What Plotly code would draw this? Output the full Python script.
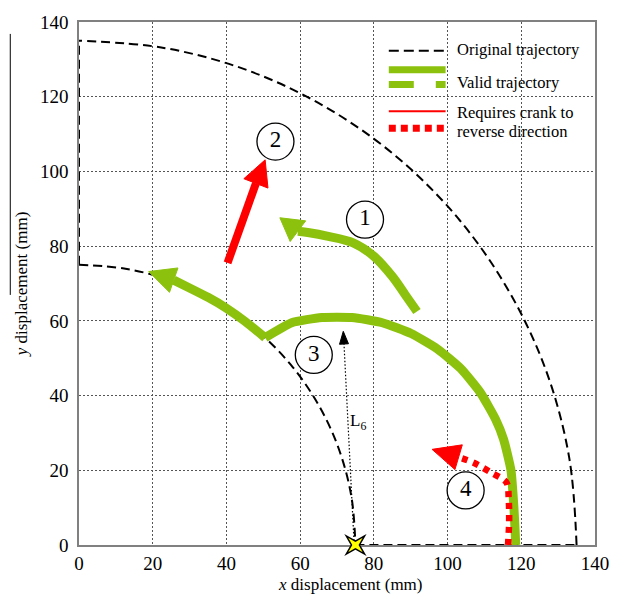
import math
import plotly.graph_objects as go

# ---------------- data ----------------
# original trajectory (black dashed)
outer_x = [135, 133.0, 126.9, 116.9, 103.4, 86.8, 67.5, 46.2, 23.4, 0]
outer_y = [0, 23.4, 46.2, 67.5, 86.8, 103.4, 116.9, 126.9, 133.0, 135]
inner_x = [0, 13.0, 25.7, 37.5, 48.2, 57.5, 65.0, 70.5, 73.9, 75]
inner_y = [75, 73.9, 70.5, 65.0, 57.5, 48.2, 37.5, 25.7, 13.0, 0]
left_x = [0, 0]
left_y = [75, 135]
base_x = [75, 135]
base_y = [0, 0]

# valid trajectory 3 (big green arrow): lower part to the kink, then upper-left part to the tip
g3a_x = [118.5, 118.0, 117.2, 115.2, 113.0, 108.9, 103.6, 97.2, 90.1, 82.3, 74.1, 65.9, 57.7, 50.5]
g3a_y = [0, 10, 20, 28.3, 33.7, 40.8, 47.2, 52.5, 56.6, 59.5, 60.9, 60.9, 59.5, 55.5]
g3b_x = [50.5, 45.0, 40.0, 35.0, 30.0, 25.7, 18.9]
g3b_y = [55.5, 59.9, 63.4, 66.3, 68.8, 70.9, 73.2]

# valid trajectory 1 (green arrow)
g1_x = [91.7, 88.5, 85.0, 80.0, 74.4, 67.3, 62.5, 59.4, 54.5]
g1_y = [62.5, 67.0, 71.9, 77.3, 80.9, 82.7, 83.6, 84.0, 87.6]

# requires crank reversal 2 (red solid arrow)
r2_x = [40.3, 48.0, 50.5]
r2_y = [75.5, 96.8, 103.1]

# requires crank reversal 4 (red dotted arrow)
r4_x = [116.4, 116.7, 116.6, 116.0, 111.8, 107.1, 103.0, 95.8]
r4_y = [0, 6, 12, 16.7, 19.4, 22.0, 23.5, 25.6]

# L6 link (thin dotted arrow) and pivot star
l6_x = [74.6, 71.9, 71.7]
l6_y = [1.2, 53.8, 57.2]
star_x = 75
star_y = 0

# numbered circles
circ_x = [77.6, 53.3, 63.7, 104.9]
circ_y = [87.1, 108.0, 50.9, 14.6]
circ_lbl = ["1", "2", "3", "4"]

ticks = [0, 20, 40, 60, 80, 100, 120, 140]

# ---------------- layout constants ----------------
W, H = 621, 603
ML, MR, MT, MB = 79, 24, 18, 58
PW, PH = W - ML - MR, H - MT - MB
SX, SY = PW / 140.0, PH / 140.0

GREEN = "#8CC20E"
RED = "#FF0000"
FONT = "Liberation Serif, Times New Roman, DejaVu Serif, serif"


def head(bx, by, tx, ty, half_px):
    # triangle from base centre to tip, built in pixel space
    dx, dy = (tx - bx) * SX, (ty - by) * SY
    L = (dx * dx + dy * dy) ** 0.5
    px, py = -dy / L * half_px, dx / L * half_px
    xs = [tx, bx + px / SX, bx - px / SX, tx]
    ys = [ty, by + py / SY, by - py / SY, ty]
    return xs, ys


fig = go.Figure()

dash_blk = dict(color="black", width=2, dash="9px,5px")
for xs, ys, shp in [(outer_x, outer_y, "spline"), (inner_x, inner_y, "spline"),
                    (left_x, left_y, "linear"), (base_x, base_y, "linear")]:
    fig.add_trace(go.Scatter(x=xs, y=ys, mode="lines", line=dict(shape=shp, **dash_blk),
                             hoverinfo="skip", showlegend=False, cliponaxis=False))

# L6 dotted arrow
fig.add_trace(go.Scatter(x=l6_x[:-1], y=l6_y[:-1], mode="lines",
                         line=dict(color="black", width=1.2, dash="1.5px,2px"),
                         showlegend=False, hoverinfo="skip"))
hx, hy = head(l6_x[-2], l6_y[-2], l6_x[-1], l6_y[-1], 4.5)
fig.add_trace(go.Scatter(x=hx, y=hy, mode="lines", fill="toself", fillcolor="black",
                         line=dict(color="black", width=1), showlegend=False, hoverinfo="skip"))

# numbered circles
fig.add_trace(go.Scatter(x=circ_x, y=circ_y, mode="markers+text", text=circ_lbl,
                         textposition="middle center",
                         textfont=dict(family=FONT, size=23, color="black"),
                         marker=dict(symbol="circle", size=37, color="white",
                                     line=dict(color="black", width=1.3)),
                         showlegend=False, hoverinfo="skip"))

# green arrows
fig.add_trace(go.Scatter(x=g3a_x, y=g3a_y, mode="lines",
                         line=dict(color=GREEN, width=9, shape="spline", smoothing=0.5),
                         showlegend=False, hoverinfo="skip"))
fig.add_trace(go.Scatter(x=g3b_x[:-1], y=g3b_y[:-1], mode="lines",
                         line=dict(color=GREEN, width=9, shape="spline", smoothing=0.5),
                         showlegend=False, hoverinfo="skip"))
hx, hy = head(g3b_x[-2], g3b_y[-2], g3b_x[-1], g3b_y[-1], 13)
fig.add_trace(go.Scatter(x=hx, y=hy, mode="lines", fill="toself", fillcolor=GREEN,
                         line=dict(color=GREEN, width=1), showlegend=False, hoverinfo="skip"))

fig.add_trace(go.Scatter(x=g1_x[:-1], y=g1_y[:-1], mode="lines",
                         line=dict(color=GREEN, width=9, shape="spline", smoothing=1.0),
                         showlegend=False, hoverinfo="skip"))
hx, hy = head(g1_x[-2], g1_y[-2], g1_x[-1], g1_y[-1], 13)
fig.add_trace(go.Scatter(x=hx, y=hy, mode="lines", fill="toself", fillcolor=GREEN,
                         line=dict(color=GREEN, width=1), showlegend=False, hoverinfo="skip"))

# red arrows
fig.add_trace(go.Scatter(x=r2_x[:-1], y=r2_y[:-1], mode="lines",
                         line=dict(color=RED, width=8), showlegend=False, hoverinfo="skip"))
hx, hy = head(r2_x[-2], r2_y[-2], r2_x[-1], r2_y[-1], 13)
fig.add_trace(go.Scatter(x=hx, y=hy, mode="lines", fill="toself", fillcolor=RED,
                         line=dict(color=RED, width=1), showlegend=False, hoverinfo="skip"))

fig.add_trace(go.Scatter(x=r4_x[:-1], y=r4_y[:-1], mode="lines",
                         line=dict(color=RED, width=6.5, dash="6px,6px", shape="spline", smoothing=0.8),
                         showlegend=False, hoverinfo="skip"))
hx, hy = head(r4_x[-2], r4_y[-2], r4_x[-1], r4_y[-1], 13)
fig.add_trace(go.Scatter(x=hx, y=hy, mode="lines", fill="toself", fillcolor=RED,
                         line=dict(color=RED, width=1), showlegend=False, hoverinfo="skip"))


# ---------------- helpers for paper coordinates ----------------
def px(xp):
    return (xp - ML) / PW


def py(yp):
    return (H - MB - yp) / PH


shapes = []

# pivot star: 4-pointed star around the pivot (paper coords, so it is not clipped)
cx, cy = star_x / 140.0, star_y / 140.0
pts = []
for r, a in [(13, 45), (4, 90), (13, 135), (4, 180), (13, 225), (4, 270), (13, 315), (4, 0)]:
    pts.append((cx + r * math.cos(math.radians(a)) / PW, cy + r * math.sin(math.radians(a)) / PH))
path = "M " + " L ".join(f"{x:.5f},{y:.5f}" for x, y in pts) + " Z"
shapes.append(dict(type="path", xref="paper", yref="paper", path=path,
                   fillcolor="#FFFF00", line=dict(color="black", width=1.5), layer="above"))


def seg(x0, x1, y, **line):
    shapes.append(dict(type="line", xref="paper", yref="paper", x0=px(x0), x1=px(x1),
                       y0=py(y), y1=py(y), line=line))

seg(390, 446, 47, color="black", width=2, dash="10px,5px")
seg(390, 447, 66, color=GREEN, width=7)
seg(390, 447, 81, color=GREEN, width=7, dash="25px,22px")
seg(390, 447, 108, color=RED, width=2)
seg(390, 447, 125, color=RED, width=7, dash="7px,5px")
# thin vertical stroke at the far left of the reference image
shapes.append(dict(type="line", xref="paper", yref="paper", x0=px(10), x1=px(10),
                   y0=py(30), y1=py(293), line=dict(color="black", width=1)))

annotations = []
def txt(x, y, s, size=16.5, anchor="left", angle=0):
    annotations.append(dict(xref="paper", yref="paper", x=px(x), y=py(y), text=s,
                            showarrow=False, xanchor=anchor, yanchor="middle", textangle=angle,
                            font=dict(family=FONT, size=size, color="black")))

txt(456, 46, "Original trajectory")
txt(456, 79, "Valid trajectory")
txt(456, 109, "Requires crank to")
txt(456, 128, "reverse direction")
txt(352, 585, "<i>x</i> displacement (mm)", size=17, anchor="center")
txt(22, 282, "<i>y</i> displacement (mm)", size=17, anchor="center", angle=-90)

# L6 label (data coords)
annotations.append(dict(x=75.6, y=33, xref="x", yref="y", text="L<sub>6</sub>", showarrow=False,
                        font=dict(family=FONT, size=17, color="black")))

axis = dict(range=[0, 140], tickvals=ticks, ticktext=[str(t) for t in ticks],
            showgrid=True, gridcolor="#555555", griddash="2px,2px", gridwidth=1,
            zeroline=False, showline=True, linecolor="#808080", linewidth=1.5, mirror=True,
            ticks="", tickfont=dict(family=FONT, size=19, color="black"), fixedrange=True)

fig.update_layout(width=W, height=H, autosize=False,
                  margin=dict(l=ML, r=MR, t=MT, b=MB),
                  paper_bgcolor="white", plot_bgcolor="white",
                  xaxis=dict(axis, ticklabelstandoff=0), yaxis=dict(axis, ticklabelstandoff=5),
                  shapes=shapes, annotations=annotations,
                  showlegend=False)

fig.write_html("out.html")
